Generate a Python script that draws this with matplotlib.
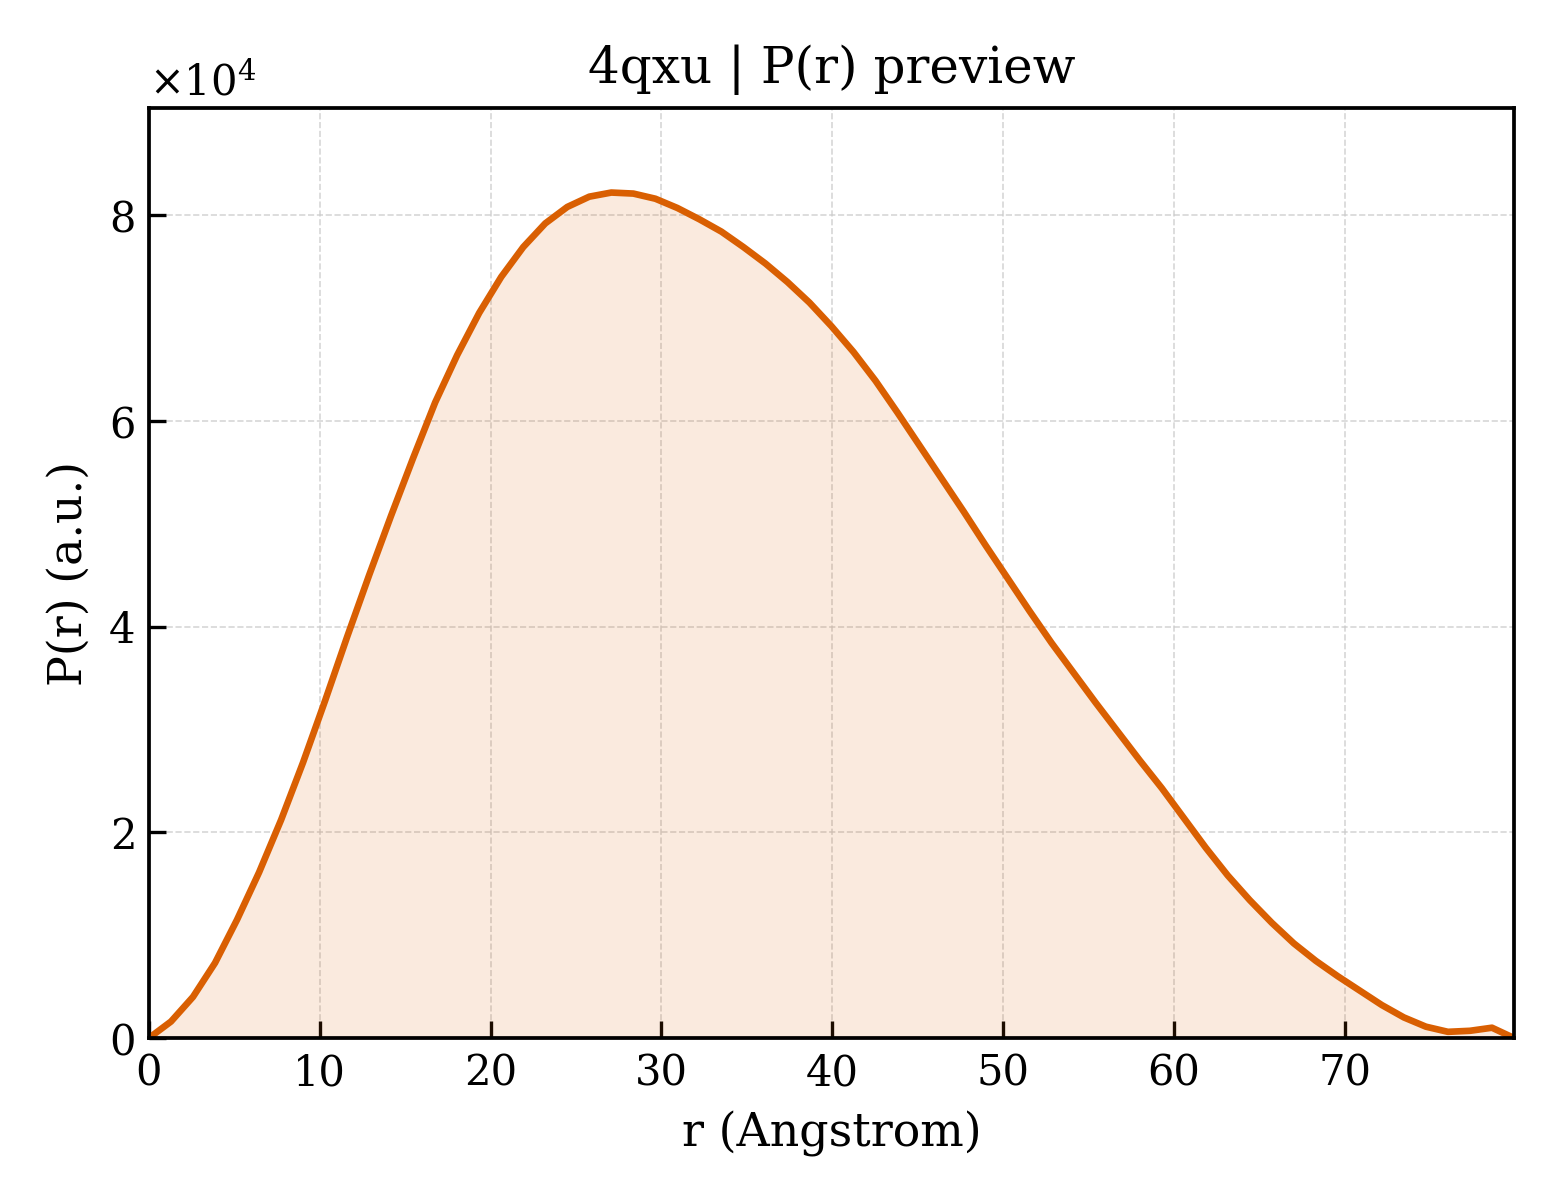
import numpy as np
import matplotlib
matplotlib.use("Agg")
import matplotlib.pyplot as plt
from matplotlib.ticker import ScalarFormatter

# P(r) values (units of 1e4), sampled on a uniform r grid of 63 points from 0 to 79.9 Angstrom
r_max = 79.9
n_points = 63
pr_1e4 = [
    0.00, 0.16, 0.40, 0.73, 1.15, 1.61, 2.12, 2.68, 3.28, 3.90,
    4.50, 5.08, 5.64, 6.18, 6.64, 7.05, 7.40, 7.69, 7.92, 8.08,
    8.18, 8.22, 8.21, 8.16, 8.07, 7.96, 7.84, 7.69, 7.53, 7.35,
    7.15, 6.92, 6.67, 6.39, 6.08, 5.76, 5.44, 5.12, 4.79, 4.47,
    4.15, 3.84, 3.55, 3.26, 2.98, 2.70, 2.43, 2.14, 1.85, 1.58,
    1.34, 1.12, 0.92, 0.75, 0.60, 0.46, 0.32, 0.20, 0.11, 0.06,
    0.07, 0.10, 0.00,
]

r = np.linspace(0, r_max, n_points)
pr = np.array(pr_1e4) * 1e4

title = "4qxu | P(r) preview"
xlabel = "r (Angstrom)"
ylabel = "P(r) (a.u.)"
color = "#D95F02"

plt.rcParams["font.family"] = ["DejaVu Serif"]
plt.rcParams["mathtext.fontset"] = "dejavuserif"

fig = plt.figure(figsize=(5.2, 4.0), dpi=300)
ax = fig.add_axes([0.0955, 0.135, 0.875, 0.775])

ax.fill_between(r, pr, 0, color=color, alpha=0.13, linewidth=0)
ax.plot(r, pr, color=color, linewidth=1.6)

ax.set_xlim(0, r_max)
ax.set_ylim(0, pr.max() * 1.1)
ax.set_xticks(np.arange(0, 80, 10))
ax.set_yticks(np.arange(0, 90000, 20000))

fmt = ScalarFormatter(useMathText=True)
fmt.set_powerlimits((0, 0))
ax.yaxis.set_major_formatter(fmt)
ax.yaxis.get_offset_text().set_fontsize(10)

ax.grid(True, linestyle="--", linewidth=0.4, color="#cccccc", alpha=0.8)
ax.set_axisbelow(True)

ax.tick_params(direction="in", length=4, width=0.8, labelsize=10, top=False, right=False)
for s in ax.spines.values():
    s.set_linewidth(0.9)

ax.set_title(title, fontsize=12)
ax.set_xlabel(xlabel, fontsize=11)
ax.set_ylabel(ylabel, fontsize=11)

fig.savefig("out.png", dpi=300)
